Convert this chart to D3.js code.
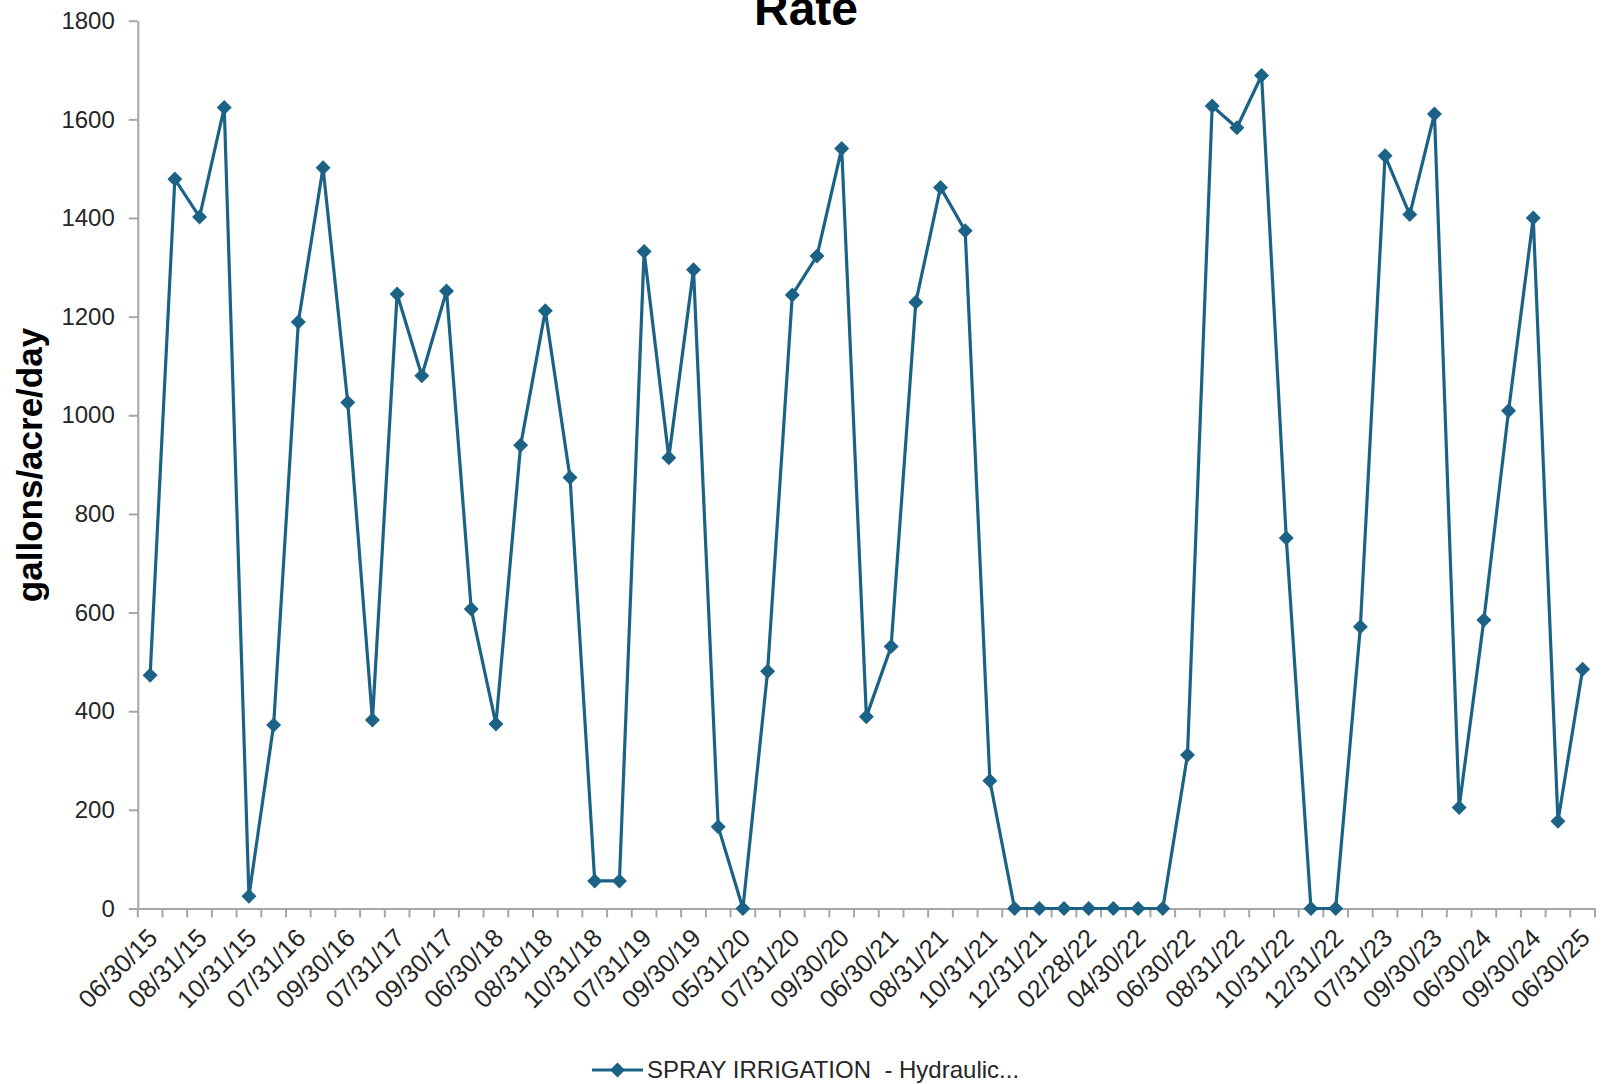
<!DOCTYPE html>
<html>
<head>
<meta charset="utf-8">
<script src="https://cdn.jsdelivr.net/npm/d3@7"></script>
<style>
  html, body { margin: 0; padding: 0; background: #ffffff; }
  svg { display: block; font-family: "Liberation Sans", Arial, sans-serif; }
</style>
</head>
<body>
<svg id="chart" width="1604" height="1084"></svg>
<script>
// Monthly reporting dates (every other one is labelled on the axis)
const categories = [
  "06/30/15","07/31/15","08/31/15","09/30/15","10/31/15",
  "06/30/16","07/31/16","08/31/16","09/30/16","10/31/16",
  "07/31/17","08/31/17","09/30/17","10/31/17",
  "06/30/18","07/31/18","08/31/18","09/30/18","10/31/18",
  "06/30/19","07/31/19","08/31/19","09/30/19","10/31/19",
  "05/31/20","06/30/20","07/31/20","08/31/20","09/30/20","10/31/20",
  "06/30/21","07/31/21","08/31/21","09/30/21","10/31/21","11/30/21","12/31/21",
  "01/31/22","02/28/22","03/31/22","04/30/22","05/31/22","06/30/22","07/31/22",
  "08/31/22","09/30/22","10/31/22","11/30/22","12/31/22",
  "06/30/23","07/31/23","08/31/23","09/30/23","10/31/23",
  "06/30/24","07/31/24","09/30/24","10/31/24","06/30/25"
];

// Hydraulic loading rate, gallons/acre/day
const rateValues = [
  473, 1479, 1402, 1624, 25,
  372, 1189, 1502, 1026, 382,
  1246, 1080, 1252, 607,
  374, 939, 1212, 874, 56,
  56, 1332, 914, 1295, 166,
  0, 481, 1244, 1323, 1541, 389,
  531, 1229, 1462, 1374, 259, 0, 0,
  0, 0, 0, 0, 0, 311, 1627,
  1583, 1689, 751, 0, 0,
  571, 1526, 1407, 1611, 205,
  585, 1009, 1400, 177, 485
];

const yTicks = [0, 200, 400, 600, 800, 1000, 1200, 1400, 1600, 1800];

const chartTitle = "Rate";
const yAxisTitle = "gallons/acre/day";
const seriesName = "SPRAY IRRIGATION  - Hydraulic...";

const seriesColor = "#1c6286";
const axisColor = "#a6a6a6";
const textColor = "#262626";

const plot = { left: 137.8, right: 1595, top: 20.7, bottom: 908.5 };

const svg = d3.select("#chart");

const x = d3.scaleBand()
  .domain(categories)
  .range([plot.left, plot.right])
  .padding(0);

const y = d3.scaleLinear()
  .domain([0, 1800])
  .range([plot.bottom, plot.top]);

// Y axis
const yAxis = svg.append("g")
  .attr("transform", `translate(${plot.left},0)`)
  .call(d3.axisLeft(y)
    .tickValues(yTicks)
    .tickFormat(d3.format("d"))
    .tickSize(9)
    .tickPadding(14)
    .tickSizeOuter(0));
yAxis.select(".domain").attr("stroke", axisColor).attr("stroke-width", 2);
yAxis.selectAll(".tick line").attr("stroke", axisColor).attr("stroke-width", 2);
yAxis.selectAll(".tick text")
  .attr("fill", textColor)
  .style("font-size", "24px")
  .style("font-family", "'Liberation Sans', Arial, sans-serif");

// X axis: labels on every other category, tick marks on band edges
const xAxis = svg.append("g")
  .attr("transform", `translate(0,${plot.bottom})`)
  .call(d3.axisBottom(x)
    .tickSize(0)
    .tickSizeOuter(0)
    .tickFormat((d, i) => (i % 2 === 0 ? d : "")));
xAxis.select(".domain").attr("stroke", axisColor).attr("stroke-width", 2);
xAxis.selectAll(".tick text")
  .attr("fill", textColor)
  .style("font-size", "25.5px")
  .style("font-family", "'Liberation Sans', Arial, sans-serif")
  .attr("text-anchor", "end")
  .attr("dy", null)
  .attr("y", 0)
  .attr("transform", "translate(9,31) rotate(-45)");

const edges = categories.map(c => x(c)).concat([plot.right]);
xAxis.selectAll(".edge-tick")
  .data(edges)
  .join("line")
  .attr("class", "edge-tick")
  .attr("x1", d => d).attr("x2", d => d)
  .attr("y1", 0).attr("y2", 9)
  .attr("stroke", axisColor)
  .attr("stroke-width", 2);

// Series line
const cx = (c) => x(c) + x.bandwidth() / 2;
const line = d3.line()
  .x((d, i) => cx(categories[i]))
  .y(d => y(d));

svg.append("path")
  .datum(rateValues)
  .attr("fill", "none")
  .attr("stroke", seriesColor)
  .attr("stroke-width", 3.2)
  .attr("stroke-linejoin", "round")
  .attr("d", line);

// Diamond markers
const diamond = (r) => `M0,${-r}L${r},0L0,${r}L${-r},0Z`;
svg.append("g")
  .selectAll("path")
  .data(rateValues)
  .join("path")
  .attr("d", diamond(7.5))
  .attr("transform", (d, i) => `translate(${cx(categories[i])},${y(d)})`)
  .attr("fill", seriesColor);

// Title (sits at the very top edge of the chart area)
svg.append("text")
  .attr("x", 806)
  .attr("y", 25)
  .attr("text-anchor", "middle")
  .attr("fill", "#000")
  .style("font-size", "48px")
  .style("font-weight", "bold")
  .text(chartTitle);

// Y axis title
svg.append("text")
  .attr("transform", "translate(42,465) rotate(-90)")
  .attr("text-anchor", "middle")
  .attr("fill", "#000")
  .style("font-size", "35px")
  .style("font-weight", "bold")
  .text(yAxisTitle);

// Legend
const legend = svg.append("g").attr("transform", "translate(592,1070)");
legend.append("line")
  .attr("x1", 0).attr("x2", 51)
  .attr("y1", 0).attr("y2", 0)
  .attr("stroke", seriesColor)
  .attr("stroke-width", 3.2);
legend.append("path")
  .attr("d", diamond(7.5))
  .attr("transform", "translate(25.5,0)")
  .attr("fill", seriesColor);
legend.append("text")
  .attr("x", 55)
  .attr("y", 8)
  .attr("fill", textColor)
  .style("font-size", "24px")
  .style("white-space", "pre")
  .text(seriesName);
</script>
</body>
</html>
